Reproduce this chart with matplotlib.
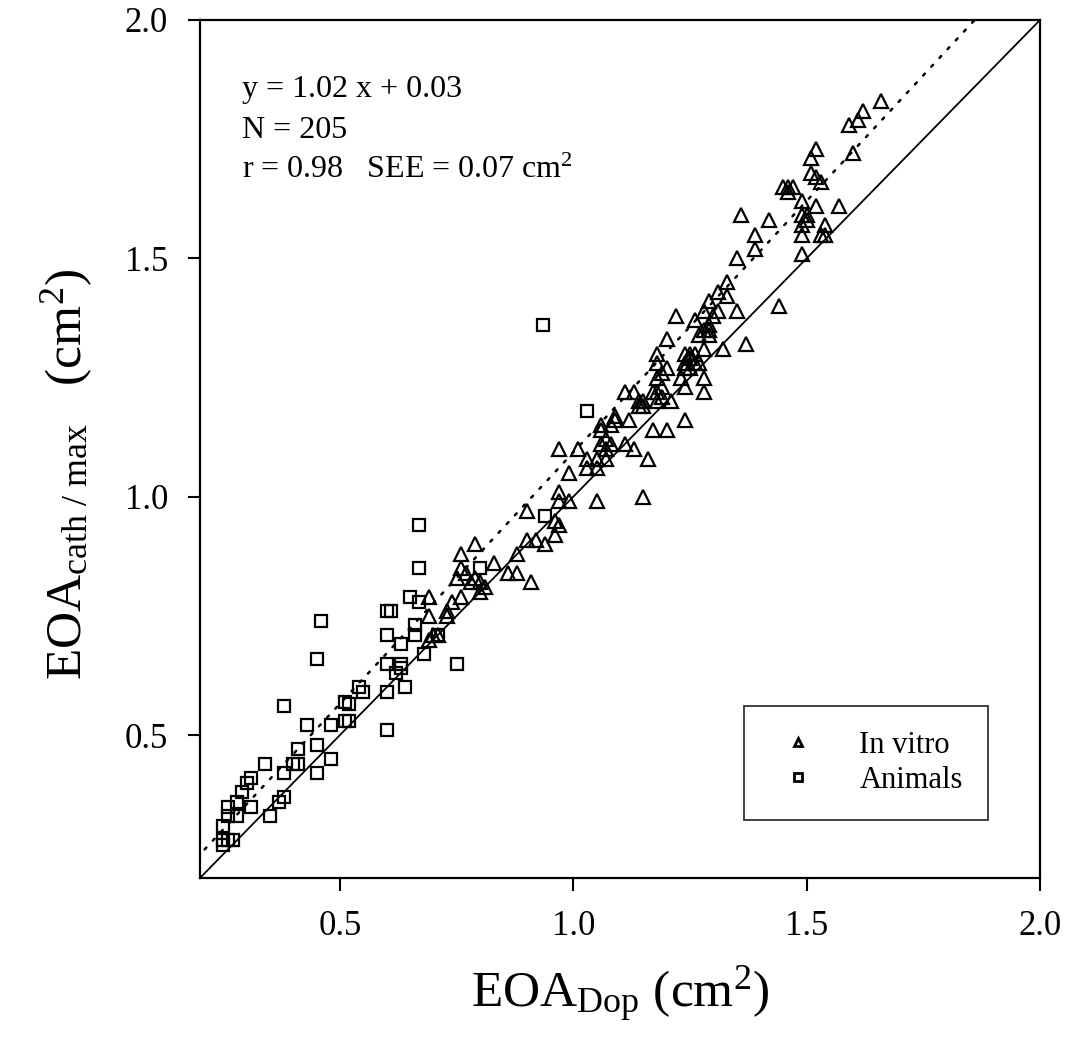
import numpy as np
import matplotlib
matplotlib.use('Agg')
import matplotlib.pyplot as plt

plt.rcParams['font.family'] = ['Liberation Serif', 'DejaVu Serif']
plt.rcParams['mathtext.fontset'] = 'custom'
plt.rcParams['mathtext.rm'] = 'Liberation Serif'
plt.rcParams['mathtext.it'] = 'Liberation Serif:italic'

# In vitro (triangles): EOA_Dop, EOA_cath/max
vitro_x = [0.69, 0.70, 0.69, 0.71, 0.69, 0.73, 0.73, 0.74, 0.76, 0.75, 0.76, 0.76, 0.77,
           0.78, 0.79, 0.79, 0.80, 0.81, 0.80, 0.83, 0.86, 0.88, 0.88, 0.91, 0.90, 0.90,
           0.92, 0.94, 0.96, 0.97, 0.96, 0.97, 0.97, 0.99, 0.97, 1.01, 0.99, 1.05, 1.03,
           1.05, 1.03, 1.05, 1.07, 1.07, 1.06, 1.06, 1.08, 1.09, 1.09, 1.12, 1.11, 1.13,
           1.07, 1.08, 1.06, 1.11, 1.13, 1.14, 1.15, 1.14, 1.15, 1.15, 1.16, 1.17, 1.20,
           1.17, 1.18, 1.19, 1.18, 1.21, 1.19, 1.18, 1.19, 1.20, 1.18, 1.18, 1.20, 1.22,
           1.24, 1.24, 1.23, 1.24, 1.24, 1.25, 1.24, 1.25, 1.26, 1.27, 1.25, 1.26, 1.28,
           1.28, 1.28, 1.27, 1.28, 1.29, 1.29, 1.29, 1.26, 1.28, 1.29, 1.30, 1.31, 1.31,
           1.33, 1.33, 1.32, 1.37, 1.35, 1.35, 1.36, 1.39, 1.39, 1.42, 1.44, 1.45, 1.46,
           1.47, 1.46, 1.49, 1.49, 1.50, 1.50, 1.49, 1.49, 1.49, 1.52, 1.53, 1.54, 1.54,
           1.57, 1.51, 1.52, 1.53, 1.52, 1.51, 1.59, 1.60, 1.61, 1.62, 1.66]
vitro_y = [0.70, 0.71, 0.75, 0.71, 0.79, 0.75, 0.76, 0.78, 0.79, 0.83, 0.85, 0.88, 0.84,
           0.82, 0.90, 0.83, 0.82, 0.81, 0.80, 0.86, 0.84, 0.84, 0.88, 0.82, 0.97, 0.91,
           0.91, 0.90, 0.95, 0.94, 0.92, 1.01, 0.99, 0.99, 1.10, 1.10, 1.05, 0.99, 1.08,
           1.08, 1.06, 1.06, 1.08, 1.10, 1.14, 1.15, 1.15, 1.16, 1.17, 1.16, 1.11, 1.10,
           1.12, 1.11, 1.11, 1.22, 1.22, 1.20, 1.19, 1.19, 1.20, 1.00, 1.08, 1.14, 1.14,
           1.22, 1.22, 1.21, 1.20, 1.20, 1.23, 1.25, 1.26, 1.27, 1.28, 1.30, 1.33, 1.38,
           1.16, 1.23, 1.25, 1.27, 1.28, 1.27, 1.30, 1.29, 1.28, 1.28, 1.30, 1.30, 1.25,
           1.22, 1.31, 1.34, 1.35, 1.34, 1.36, 1.35, 1.37, 1.39, 1.41, 1.38, 1.39, 1.43,
           1.42, 1.45, 1.31, 1.32, 1.39, 1.50, 1.59, 1.55, 1.52, 1.58, 1.40, 1.65, 1.64,
           1.65, 1.65, 1.62, 1.59, 1.58, 1.59, 1.57, 1.55, 1.51, 1.61, 1.55, 1.55, 1.57,
           1.61, 1.68, 1.67, 1.66, 1.73, 1.71, 1.78, 1.72, 1.79, 1.81, 1.83]

# Animals (squares)
animal_x = [0.25, 0.25, 0.26, 0.27, 0.25, 0.26, 0.28, 0.26, 0.28, 0.31, 0.29, 0.30, 0.31,
            0.34, 0.35, 0.37, 0.38, 0.38, 0.38, 0.40, 0.41, 0.41, 0.43, 0.45, 0.45, 0.45,
            0.46, 0.48, 0.48, 0.51, 0.52, 0.51, 0.52, 0.54, 0.55, 0.60, 0.60, 0.60, 0.60,
            0.60, 0.61, 0.62, 0.63, 0.63, 0.63, 0.64, 0.65, 0.66, 0.66, 0.67, 0.67, 0.67,
            0.68, 0.71, 0.75, 0.80, 0.94, 0.935, 1.03]
animal_y = [0.27, 0.28, 0.28, 0.28, 0.31, 0.33, 0.33, 0.35, 0.36, 0.35, 0.38, 0.40, 0.41,
            0.44, 0.33, 0.36, 0.37, 0.42, 0.56, 0.44, 0.44, 0.47, 0.52, 0.42, 0.48, 0.66,
            0.74, 0.45, 0.52, 0.53, 0.53, 0.57, 0.565, 0.60, 0.59, 0.51, 0.59, 0.65, 0.71,
            0.76, 0.76, 0.63, 0.64, 0.65, 0.69, 0.60, 0.79, 0.71, 0.73, 0.78, 0.85, 0.94,
            0.67, 0.71, 0.65, 0.85, 0.96, 1.36, 1.18]

# regression line as drawn (dotted) and line of identity
fit_x = [0.21, 1.86]
fit_y = [0.26, 2.0]
ident = [0.2, 2.0]

stats_lines = ['y = 1.02 x + 0.03', 'N = 205', 'r = 0.98   SEE = 0.07 cm$^{2}$']

fig = plt.figure(figsize=(10.70, 10.46), dpi=100)
ax = fig.add_axes([200/1070, 168/1046, 840/1070, 858/1046])

ax.plot(ident, ident, color='black', linewidth=1.3)
ax.plot(fit_x, fit_y, color='black', linewidth=1.8, linestyle=(0, (1, 3.8)),
        dash_capstyle='round')

ax.plot(vitro_x, vitro_y, linestyle='none', marker='^', markersize=9.5,
        markerfacecolor='none', markeredgecolor='black', markeredgewidth=1.6,
        label='In vitro')
ax.plot(animal_x, animal_y, linestyle='none', marker='s', markersize=8.5,
        markerfacecolor='none', markeredgecolor='black', markeredgewidth=1.6,
        label='Animals')

ax.set_xlim([0.2, 2.0])
ax.set_ylim([0.2, 2.0])
ax.set_xticks([0.5, 1.0, 1.5, 2.0])
ax.set_yticks([0.5, 1.0, 1.5, 2.0])
ax.tick_params(direction='out', length=9, width=1.5, labelsize=25, pad=14)
for s in ax.spines.values():
    s.set_linewidth(1.6)

ax.set_xlabel('EOA$_{\\mathrm{Dop}}$ (cm$^{2}$)', fontsize=37, labelpad=16)
ax.set_ylabel('EOA$_{\\mathrm{cath\\ /\\ max}}$   (cm$^{2}$)', fontsize=37)
ax.yaxis.set_label_coords(-0.125, 0.47)

# stats text, one line per baseline
for i, line in enumerate(stats_lines):
    ax.text(0.05, 0.910 - i*0.047, line, transform=ax.transAxes, fontsize=23,
            va='baseline', ha='left')

leg = ax.legend(loc='upper right', bbox_to_anchor=(0.938, 0.2005), fontsize=22,
                frameon=True, fancybox=False, edgecolor='black', handletextpad=1.05,
                borderpad=0.82, labelspacing=0.2, handlelength=1.9, borderaxespad=0)
leg.get_frame().set_linewidth(1.3)
for h in leg.legend_handles:
    h.set_markersize(6)
    h.set_markeredgewidth(2)

plt.savefig('out.png', dpi=100)
